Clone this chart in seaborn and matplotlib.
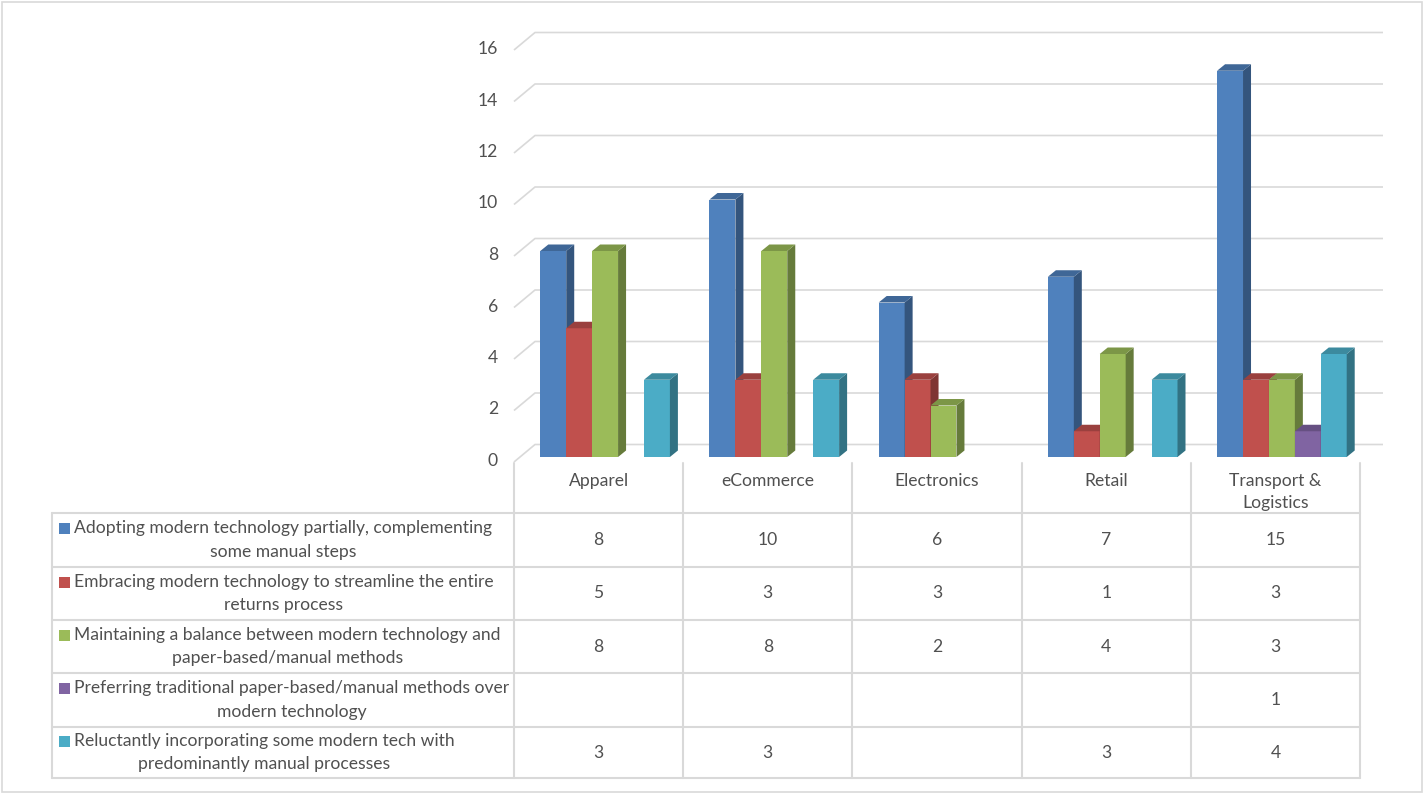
import numpy as np
import pandas as pd
import matplotlib
matplotlib.use('Agg')
import matplotlib.pyplot as plt
from matplotlib.patches import Polygon, Rectangle
import seaborn as sns

# data
categories = ['Apparel', 'eCommerce', 'Electronics', 'Retail', 'Transport &\nLogistics']
series = ['Adopting modern technology partially, complementing\nsome manual steps',
          'Embracing modern technology to streamline the entire\nreturns process',
          'Maintaining a balance between modern technology and\npaper-based/manual methods',
          'Preferring traditional paper-based/manual methods over\nmodern technology',
          'Reluctantly incorporating some modern tech with\npredominantly manual processes']
adopting = [8, 10, 6, 7, 15]
embracing = [5, 3, 3, 1, 3]
balance = [8, 8, 2, 4, 3]
traditional = [None, None, None, None, 1]
reluctant = [3, 3, None, 3, 4]
y_ticks = [0, 2, 4, 6, 8, 10, 12, 14, 16]

colors = ['#4F81BD', '#C0504D', '#9BBB59', '#8064A2', '#4BACC6']
text_col = '#505050'
line_col = '#d9d9d9'

values = [adopting, embracing, balance, traditional, reluctant]
rows = []
for s, vals in zip(series, values):
    for c, v in zip(categories, vals):
        if v is not None:
            rows.append({'category': c, 'series': s, 'value': v})
df = pd.DataFrame(rows)

sns.set_style('white')
plt.rcParams['font.family'] = ['Lato', 'DejaVu Sans']
fs = 12.6

W, H = 1427, 795
fig = plt.figure(figsize=(W / 100, H / 100), dpi=100)

# layout (pixels, from top-left)
tbl_left = 514
col_w = 169.2
shift = 6.5
row_edges = [513, 567, 620, 673, 727, 778]
y0_px, ppu = 457, 25.75

bg = fig.add_axes([0, 0, 1, 1], zorder=0)
bg.set_xlim(0, W)
bg.set_ylim(H, 0)
bg.axis('off')

ax_l = tbl_left + shift
ax_w = 5 * col_w
ax = fig.add_axes([ax_l / W, 1 - y0_px / H, ax_w / W, 16 * ppu / H], zorder=1)

sns.barplot(data=df, x='category', y='value', hue='series', order=categories,
            hue_order=series, palette=colors, saturation=1, width=0.766,
            legend=False, ax=ax, linewidth=0)
ax.set_xlim(-0.5, 4.5)
ax.set_ylim(0, 16)
ax.axis('off')
ax.patch.set_alpha(0)


def vy(v):
    return H - ax.transData.transform((0, v))[1]


# back wall gridlines with 3d floor diagonals
for v in y_ticks:
    yb = vy(v)
    bg.plot([tbl_left, 535, 1383], [yb + 5, yb - 12.5, yb - 12.5], color=line_col, lw=1.2,
            solid_capstyle='butt')
    bg.text(498, yb + 4, str(v), ha='right', va='center', fontsize=fs, color=text_col)

# 3d sides and tops for the bars
ddx = 8 / (ax_w / 5)
ddy = 6.5 / ppu
bars = sorted([p for p in ax.patches if p.get_height() > 0], key=lambda p: p.get_x())
for i, p in enumerate(bars):
    z = 3 + 2 * i
    p.set_zorder(z)
    p.set_clip_on(False)
    rgb = np.array(p.get_facecolor()[:3])
    xl, w, h = p.get_x(), p.get_width(), p.get_height()
    xr = xl + w
    side = Polygon([(xr, 0), (xr + ddx, ddy), (xr + ddx, h + ddy), (xr, h)],
                   closed=True, facecolor=rgb * 0.66, edgecolor='none', zorder=z + 0.5, clip_on=False)
    top = Polygon([(xl, h), (xl + ddx, h + ddy), (xr + ddx, h + ddy), (xr, h)],
                  closed=True, facecolor=rgb * 0.8, edgecolor='none', zorder=z + 0.6, clip_on=False)
    ax.add_patch(side)
    ax.add_patch(top)

# data table
col_edges = [tbl_left + i * col_w for i in range(6)]
for x in col_edges:
    bg.plot([x, x], [463, row_edges[-1]], color=line_col, lw=1.5)
bg.plot([52, 52], [row_edges[0], row_edges[-1]], color=line_col, lw=1.5)
for y in row_edges:
    bg.plot([52, col_edges[-1]], [y, y], color=line_col, lw=1.5)

for i, c in enumerate(categories):
    cx = tbl_left + (i + 0.5) * col_w
    bg.text(cx, 473, c, ha='center', va='top', fontsize=fs, color=text_col,
            multialignment='center', linespacing=1.45)

for r, (s, vals) in enumerate(zip(series, values)):
    cy = (row_edges[r] + row_edges[r + 1]) / 2
    bg.add_patch(Rectangle((59, cy - 17), 11, 11, facecolor=colors[r], edgecolor='none'))
    bg.text(74, cy, s, ha='left', va='center', fontsize=fs, color=text_col,
            multialignment='center', linespacing=1.55)
    for i, v in enumerate(vals):
        if v is not None:
            cx = tbl_left + (i + 0.5) * col_w
            bg.text(cx, cy, str(v), ha='center', va='center', fontsize=fs, color=text_col)

# outer chart border
bg.add_patch(Rectangle((2, 2), 1420, 790, facecolor='none', edgecolor=line_col, lw=1.2))

fig.savefig('out.png', dpi=100)
